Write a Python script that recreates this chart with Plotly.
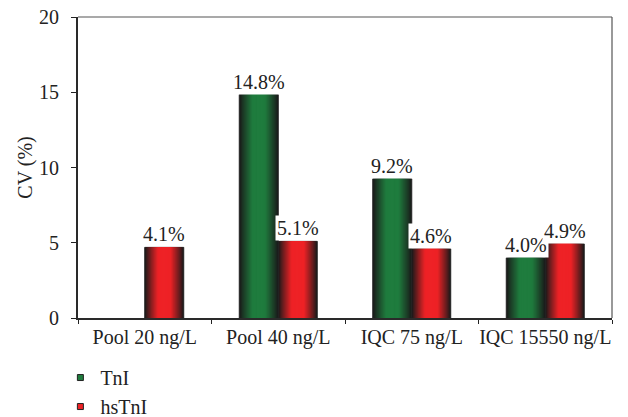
import plotly.graph_objects as go

categories = ["Pool 20 ng/L", "Pool 40 ng/L", "IQC 75 ng/L", "IQC 15550 ng/L"]
tni_values = [None, 14.85, 9.25, 4.0]
hstni_values = [4.7, 5.1, 4.6, 4.93]
tni_labels = ["", "14.8%", "9.2%", "4.0%"]
hstni_labels = ["4.1%", "5.1%", "4.6%", "4.9%"]
series_names = ["TnI", "hsTnI"]
y_ticks = [0, 5, 10, 15, 20]

FONT = "Liberation Serif"
FS = 20
TXT = "#222222"
DARK = (26, 26, 26)
GREEN = (31, 124, 62)
RED = (238, 34, 38)
BAR_W = 0.292
N_LAYERS = 22


def mix(c1, c2, t):
    return "rgb(%d,%d,%d)" % tuple(round(a + (b - a) * t) for a, b in zip(c1, c2))


fig = go.Figure()

for values, center, base_col, name in [
    (tni_values, -BAR_W / 2, GREEN, series_names[0]),
    (hstni_values, BAR_W / 2, RED, series_names[1]),
]:
    for k in range(N_LAYERS):
        f = 1 - k / N_LAYERS
        w = BAR_W * f
        d = f / 2
        t = max(0.0, min(1.0, (0.5 - d) / (0.5 - 0.17)))
        t = t ** 0.9
        fig.add_trace(go.Bar(
            x=categories, y=values, width=w, offset=center - w / 2,
            marker=dict(color=mix(DARK, base_col, t),
                        line=dict(width=1 if k == 0 else 0, color="#222222")),
            showlegend=False, hoverinfo="skip", name=name,
        ))

for name, col in zip(series_names, [GREEN, RED]):
    fig.add_trace(go.Scatter(
        x=[None], y=[None], mode="markers", name=name,
        marker=dict(symbol="square", size=6, color=mix(DARK, col, 1),
                    line=dict(width=1, color="#222222")),
    ))

for values, labels, sign in [(tni_values, tni_labels, -1), (hstni_values, hstni_labels, 1)]:
    for i, (v, lab) in enumerate(zip(values, labels)):
        if v is None or not lab:
            continue
        fig.add_annotation(
            x=i + sign * BAR_W / 2, y=v, text=lab, showarrow=False,
            yanchor="bottom", yshift=0, bgcolor="white", borderpad=1,
            font=dict(family=FONT, size=FS, color=TXT),
        )

# thin grey frame on top and right of the plot area
fig.add_shape(type="line", xref="paper", yref="paper", x0=0, x1=1, y0=1, y1=1,
              layer="above", line=dict(color="#555555", width=1.2))
fig.add_shape(type="line", xref="paper", yref="paper", x0=1, x1=1, y0=0, y1=1,
              layer="above", line=dict(color="#555555", width=1.2))

# page body has an 8px default margin: compensate so the plot area lands at
# x 78..612, y 17..318 in the 628x417 window
fig.update_layout(
    width=620, height=409,
    margin=dict(l=70, r=16, t=9, b=99, autoexpand=False),
    barmode="overlay",
    plot_bgcolor="white", paper_bgcolor="white",
    font=dict(family=FONT, size=FS, color=TXT),
    showlegend=True,
    legend=dict(x=-0.033, y=-0.133, xanchor="left", yanchor="top",
                orientation="v", tracegroupgap=0,
                font=dict(family=FONT, size=FS, color=TXT),
                bgcolor="rgba(0,0,0,0)"),
    xaxis=dict(
        type="category", categoryorder="array", categoryarray=categories,
        showline=True, linecolor="#2a2a2a", linewidth=2,
        ticks="outside", tickson="boundaries", ticklen=4, tickcolor="#222222",
        showgrid=False, zeroline=False, automargin=False, tickangle=0,
        tickfont=dict(family=FONT, size=FS, color=TXT),
    ),
    yaxis=dict(
        range=[0, 20], tickvals=y_ticks,
        showline=True, linecolor="#2a2a2a", linewidth=2,
        ticks="outside", ticklen=5, tickcolor="#222222", ticklabelstandoff=8,
        ticklabeloverflow="allow",
        showgrid=False, zeroline=False, automargin=False,
        title=dict(text="CV (%)", standoff=1, font=dict(family=FONT, size=FS, color=TXT)),
        tickfont=dict(family=FONT, size=FS, color=TXT),
    ),
)

fig.write_html("out.html")
